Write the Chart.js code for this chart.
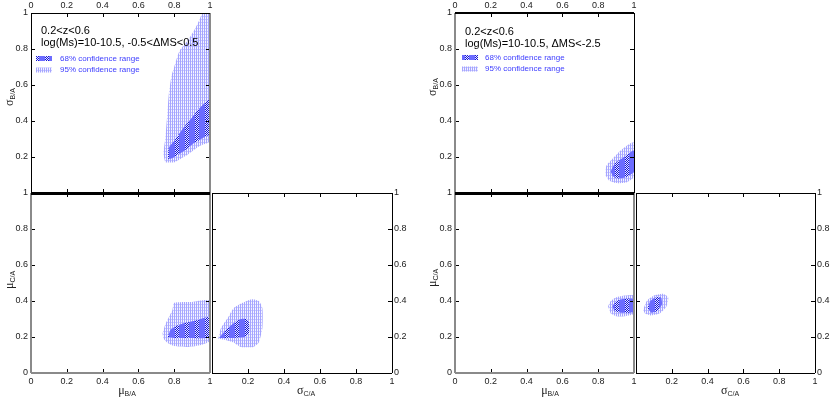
<!DOCTYPE html>
<html>
<head>
<meta charset="utf-8">
<script src="https://cdn.jsdelivr.net/npm/chart.js@4.4.0/dist/chart.umd.min.js"></script>
<style>
  body { margin: 0; background: #fff; }
  #wrap { position: relative; width: 830px; height: 399px; overflow: hidden; }
  #wrap canvas { position: absolute; left: 0; top: 0; }
</style>
</head>
<body>
<div id="wrap"></div>
<script>
const tickVals = [0, 0.2, 0.4, 0.6, 0.8, 1];
const zRange = '0.2<z<0.6';
const midNote = 'log(Ms)=10-10.5, -0.5<\u0394MS<0.5';
const lowNote = 'log(Ms)=10-10.5, \u0394MS<-2.5';
const legendLabels = ['68% confidence range', '95% confidence range'];

// left figure: -0.5 < dMS < 0.5   (points are [x, y])
const midMuBSigB68 = [[0.765,0.19],[0.77,0.25],[0.80,0.29],[0.85,0.36],[0.90,0.42],[0.95,0.48],[1.0,0.52],[1.0,0.33],[0.95,0.30],[0.90,0.27],[0.85,0.23],[0.80,0.20],[0.78,0.19]];
const midMuBSigB95 = [[0.75,0.17],[0.74,0.22],[0.75,0.30],[0.76,0.42],[0.77,0.55],[0.785,0.65],[0.80,0.70],[0.83,0.79],[0.87,0.84],[0.91,0.90],[0.94,0.96],[0.96,1.0],[1.0,1.0],[1.0,0.29],[0.94,0.26],[0.87,0.21],[0.80,0.17]];
const midMuBMuC68 = [[0.765,0.20],[0.78,0.24],[0.82,0.265],[0.87,0.28],[0.93,0.295],[1.0,0.31],[1.0,0.20],[0.90,0.195],[0.80,0.195]];
const midMuBMuC95 = [[0.735,0.22],[0.75,0.27],[0.77,0.31],[0.79,0.35],[0.80,0.39],[0.90,0.395],[1.0,0.40],[1.0,0.18],[0.95,0.155],[0.88,0.145],[0.80,0.15],[0.76,0.17],[0.74,0.19]];
const midSigCMuC68 = [[0.04,0.195],[0.07,0.23],[0.10,0.26],[0.13,0.285],[0.16,0.30],[0.19,0.30],[0.205,0.28],[0.205,0.22],[0.18,0.20],[0.12,0.195]];
const midSigCMuC95 = [[0.035,0.19],[0.05,0.25],[0.09,0.31],[0.12,0.36],[0.17,0.39],[0.22,0.41],[0.26,0.40],[0.28,0.36],[0.28,0.25],[0.26,0.17],[0.23,0.145],[0.16,0.145],[0.12,0.17],[0.07,0.185]];

// right figure: dMS < -2.5
const lowMuBSigB68 = [[0.87,0.12],[0.89,0.16],[0.93,0.19],[0.97,0.22],[1.0,0.235],[1.0,0.12],[0.96,0.09],[0.91,0.08],[0.88,0.095]];
const lowMuBSigB95 = [[0.84,0.10],[0.845,0.15],[0.88,0.19],[0.93,0.24],[0.97,0.27],[1.0,0.28],[1.0,0.09],[0.96,0.06],[0.90,0.055],[0.86,0.07]];
const lowMuBMuC68 = [[0.88,0.37],[0.895,0.395],[0.93,0.41],[1.0,0.41],[1.0,0.34],[0.93,0.335],[0.89,0.345]];
const lowMuBMuC95 = [[0.855,0.37],[0.87,0.40],[0.90,0.42],[0.95,0.43],[1.0,0.43],[1.0,0.33],[0.95,0.315],[0.90,0.315],[0.87,0.33]];
const lowSigCMuC68 = [[0.065,0.36],[0.08,0.40],[0.11,0.42],[0.14,0.42],[0.145,0.38],[0.12,0.345],[0.085,0.335]];
const lowSigCMuC95 = [[0.04,0.35],[0.06,0.40],[0.10,0.43],[0.15,0.44],[0.18,0.42],[0.17,0.37],[0.13,0.33],[0.08,0.32],[0.05,0.33]];

Chart.defaults.font.family = '"Liberation Sans", Arial, sans-serif';
const W = 830, H = 399;
const wrap = document.getElementById('wrap');

// fill textures like the printed hatch patterns
function makePattern(w, h, paint) {
  const c = document.createElement('canvas');
  c.width = w; c.height = h;
  const g = c.getContext('2d');
  paint(g);
  return g.createPattern(c, 'repeat');
}
const pat68 = makePattern(10, 4, g => {
  g.fillStyle = 'rgb(108,108,255)';
  g.fillRect(0, 0, 10, 4);
  for (let x = 5; x < 9; x++) {
    for (let y = 0; y < 4; y++) {
      g.fillStyle = (x + y) % 2 ? 'rgb(235,235,255)' : 'rgb(20,20,210)';
      g.fillRect(x, y, 1, 1);
    }
  }
});
const pat95 = makePattern(4, 3, g => {
  g.fillStyle = 'rgb(244,244,255)';
  g.fillRect(0, 0, 4, 3);
  g.fillStyle = 'rgb(165,165,255)';
  g.fillRect(0, 0, 1, 3);
  g.fillRect(2, 0, 1, 3);
  g.fillStyle = 'rgb(200,200,255)';
  g.fillRect(1, 1, 1, 1);
  g.fillRect(3, 1, 1, 1);
});

const pts = arr => arr.map(p => ({ x: p[0], y: p[1] }));

function subLabel(ctx, main, sub, x, y, rot) {
  ctx.save();
  ctx.translate(x, y);
  if (rot) ctx.rotate(-Math.PI / 2);
  ctx.fillStyle = '#222';
  ctx.font = '12px "Liberation Serif", serif';
  const w1 = ctx.measureText(main).width;
  ctx.font = '7px "Liberation Sans", sans-serif';
  const w2 = ctx.measureText(sub).width;
  const sx = -(w1 + w2) / 2;
  ctx.textBaseline = 'alphabetic';
  ctx.font = '12px "Liberation Serif", serif';
  ctx.fillText(main, sx, 3);
  ctx.font = '7px "Liberation Sans", sans-serif';
  ctx.fillText(sub, sx + w1, 5);
  ctx.restore();
}

function framePlugin(p) {
  return {
    id: 'frame',
    afterDatasetsDraw(chart) {
      const { ctx, chartArea: a, scales } = chart;
      ctx.save();
      ctx.strokeStyle = '#000';
      ctx.lineWidth = 1;
      ctx.beginPath();
      tickVals.slice(1, -1).forEach(v => {
        const x = Math.round(scales.x.getPixelForValue(v)) + 0.5;
        const y = Math.round(scales.y.getPixelForValue(v)) + 0.5;
        ctx.moveTo(x, a.top); ctx.lineTo(x, a.top + 4);
        ctx.moveTo(x, a.bottom); ctx.lineTo(x, a.bottom - 4);
        ctx.moveTo(a.left, y); ctx.lineTo(a.left + 4, y);
        ctx.moveTo(a.right, y); ctx.lineTo(a.right - 4, y);
      });
      ctx.stroke();
      const b = p.border;
      const seg = (spec, x1, y1, x2, y2) => {
        ctx.strokeStyle = spec[0];
        ctx.lineWidth = spec[1];
        ctx.beginPath(); ctx.moveTo(x1, y1); ctx.lineTo(x2, y2); ctx.stroke();
      };
      const l = Math.round(a.left), r = Math.round(a.right);
      const t = Math.round(a.top), bt = Math.round(a.bottom);
      const off = s => (s[1] % 2 ? 0.5 : 0);
      seg(b.left, l + off(b.left), t, l + off(b.left), bt);
      seg(b.right, r + off(b.right), t, r + off(b.right), bt);
      seg(b.top, l, t + off(b.top), r, t + off(b.top));
      seg(b.bottom, l, bt + off(b.bottom), r, bt + off(b.bottom));
      ctx.restore();
    },
    afterDraw(chart) {
      const ctx = chart.ctx;
      p.titles.forEach(tt => subLabel(ctx, tt.main, tt.sub, tt.x, tt.y, tt.rot));
      if (p.note) {
        const n = p.note;
        ctx.save();
        ctx.fillStyle = '#000';
        ctx.font = '11px "Liberation Sans", Arial, sans-serif';
        ctx.textBaseline = 'alphabetic';
        ctx.fillText(zRange, n.x, n.y1);
        ctx.fillText(n.text, n.x, n.y2);
        ctx.font = '8px "Liberation Sans", Arial, sans-serif';
        ctx.textBaseline = 'middle';
        [pat68, pat95].forEach((pat, i) => {
          const yy = n.ly + i * 11.5;
          ctx.fillStyle = pat;
          ctx.fillRect(n.sx, yy - 2.5, 16, 5);
          ctx.fillStyle = '#3c3cff';
          ctx.fillText(legendLabels[i], n.tx, yy);
        });
        ctx.restore();
      }
    }
  };
}

function addPanel(p) {
  const c = document.createElement('canvas');
  c.width = W; c.height = H;
  c.style.width = W + 'px'; c.style.height = H + 'px';
  wrap.appendChild(c);
  const xH = p.xPos === 'top' ? 13 : 14;
  const yW = p.yPos === 'right' ? 15 : 28;
  const padding = {
    left: p.yPos === 'left' ? p.l - yW : p.l,
    right: p.yPos === 'right' ? Math.max(0, W - p.r - yW) : W - p.r,
    top: p.xPos === 'top' ? p.t - xH : p.t,
    bottom: p.xPos === 'bottom' ? H - p.b - xH : H - p.b
  };
  const tickFont = { size: 9 };
  const lbl = hide0 => v => (hide0 && v === 0) ? '' : String(+Number(v).toFixed(1));
  new Chart(c, {
    type: 'line',
    data: {
      datasets: [
        { data: pts(p.d68), fill: 'shape', backgroundColor: pat68, borderWidth: 0, pointRadius: 0, tension: 0.2 },
        { data: pts(p.d95), fill: 'shape', backgroundColor: pat95, borderWidth: 0, pointRadius: 0, tension: 0.2 }
      ]
    },
    options: {
      responsive: false,
      animation: false,
      layout: { padding },
      scales: {
        x: {
          type: 'linear', position: p.xPos, min: 0, max: 1,
          afterFit: s => { s.height = xH; },
          grid: { display: false, drawTicks: false },
          border: { display: false },
          ticks: { stepSize: 0.2, autoSkip: false, maxRotation: 0, padding: p.xPos === 'top' ? 2 : 3,
                   font: tickFont, color: '#222', callback: lbl(p.hideX0) }
        },
        y: {
          type: 'linear', position: p.yPos, min: 0, max: 1,
          afterFit: s => { s.width = yW; },
          grid: { display: false, drawTicks: false },
          border: { display: false },
          ticks: { stepSize: 0.2, autoSkip: false, padding: p.yPos === 'right' ? 2 : 3,
                   font: tickFont, color: '#222', callback: lbl(p.hideY0) }
        }
      },
      plugins: { legend: { display: false }, tooltip: { enabled: false } }
    },
    plugins: [framePlugin(p)]
  });
}

const K = ['#000', 1], K3 = ['#000', 3], K2 = ['#000', 2], G = ['#8a8a8a', 2];

// left figure
addPanel({ l: 31, r: 210, t: 13, b: 193, xPos: 'top', yPos: 'left', hideY0: true,
  d68: midMuBSigB68, d95: midMuBSigB95,
  border: { top: K, left: K, right: G, bottom: K3 },
  titles: [{ main: '\u03c3', sub: 'B/A', x: 10, y: 97, rot: true }],
  note: { x: 41, y1: 34, y2: 46, text: midNote, ly: 58.5, sx: 36, tx: 60 } });
addPanel({ l: 31, r: 210, t: 193, b: 373, xPos: 'bottom', yPos: 'left',
  d68: midMuBMuC68, d95: midMuBMuC95,
  border: { top: K3, left: G, right: G, bottom: G },
  titles: [{ main: '\u03bc', sub: 'C/A', x: 10, y: 280, rot: true },
           { main: '\u03bc', sub: 'B/A', x: 127, y: 391, rot: false }] });
addPanel({ l: 212, r: 392, t: 193, b: 373, xPos: 'bottom', yPos: 'right', hideX0: true,
  d68: midSigCMuC68, d95: midSigCMuC95,
  border: { top: K, left: K, right: K, bottom: K },
  titles: [{ main: '\u03c3', sub: 'C/A', x: 306, y: 391, rot: false }] });

// right figure
addPanel({ l: 455, r: 634, t: 13, b: 193, xPos: 'top', yPos: 'left', hideY0: true,
  d68: lowMuBSigB68, d95: lowMuBSigB95,
  border: { top: K2, left: G, right: K, bottom: K3 },
  titles: [{ main: '\u03c3', sub: 'B/A', x: 433, y: 87, rot: true }],
  note: { x: 465, y1: 35, y2: 47, text: lowNote, ly: 57.5, sx: 462, tx: 485 } });
addPanel({ l: 455, r: 634, t: 193, b: 373, xPos: 'bottom', yPos: 'left',
  d68: lowMuBMuC68, d95: lowMuBMuC95,
  border: { top: K3, left: G, right: G, bottom: G },
  titles: [{ main: '\u03bc', sub: 'C/A', x: 433, y: 278, rot: true },
           { main: '\u03bc', sub: 'B/A', x: 550, y: 391, rot: false }] });
addPanel({ l: 636, r: 815, t: 193, b: 373, xPos: 'bottom', yPos: 'right', hideX0: true,
  d68: lowSigCMuC68, d95: lowSigCMuC95,
  border: { top: K, left: K, right: K, bottom: K },
  titles: [{ main: '\u03c3', sub: 'C/A', x: 730, y: 391, rot: false }] });
</script>
</body>
</html>
